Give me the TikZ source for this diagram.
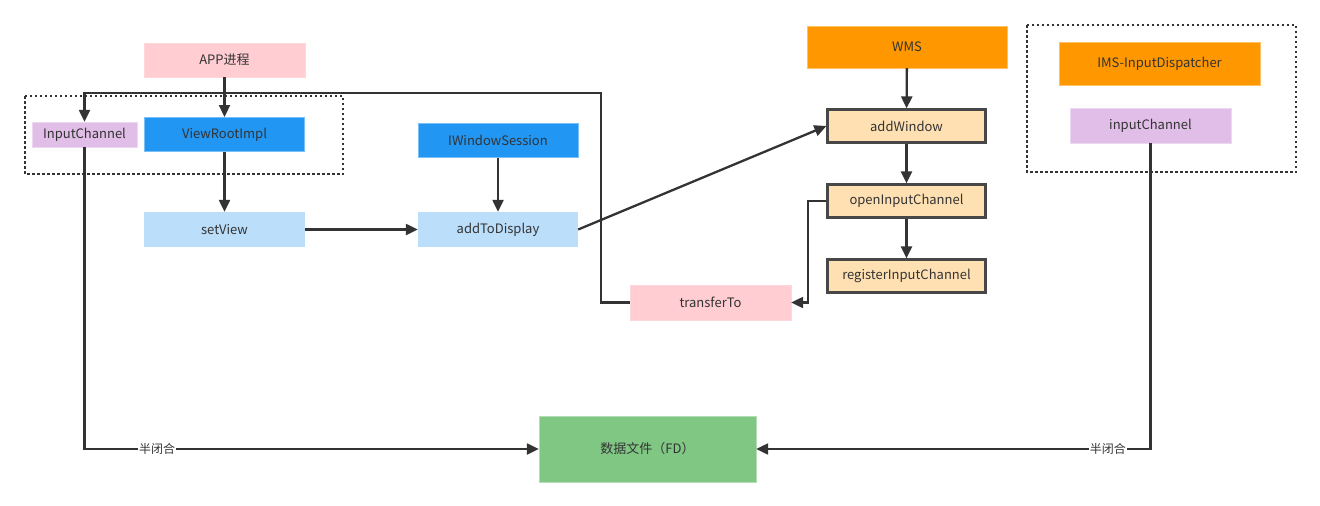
\documentclass[tikz,border=0pt]{standalone}
\usepackage{fontspec}
\setmainfont{Noto Sans CJK SC}
\usetikzlibrary{arrows.meta}
\definecolor{txt}{HTML}{333333}
\definecolor{pinkc}{HTML}{FFCDD2}
\definecolor{bluec}{HTML}{2196F3}
\definecolor{lbluec}{HTML}{BBDEFB}
\definecolor{purplec}{HTML}{E1BEE7}
\definecolor{orangec}{HTML}{FF9800}
\definecolor{peachc}{HTML}{FFE0B2}
\definecolor{greenc}{HTML}{81C784}
\definecolor{linec}{HTML}{333333}
\tikzset{
  box/.style={rectangle, inner sep=0pt, text=txt, font=\fontsize{13}{15}\selectfont},
  pinkbox/.style={box, fill=pinkc, draw=pinkc!80!white},
  bluebox/.style={box, fill=bluec, draw=bluec!60!white, line width=1pt},
  lbluebox/.style={box, fill=lbluec},
  purplebox/.style={box, fill=purplec, draw=purplec!60!white},
  orangebox/.style={box, fill=orangec, draw=orangec!60!white},
  peachbox/.style={box, fill=peachc, draw=linec!90!white, line width=2.2pt},
  greenbox/.style={box, fill=greenc, draw=greenc!60!white},
  conn/.style={draw=linec, line width=2.3pt, -{Triangle[length=12pt,width=11pt]}},
  grp/.style={draw=linec, line width=2.3pt, dash pattern=on 2.5pt off 2.5pt},
  lab/.style={fill=white, inner sep=1pt, text=txt, font=\fontsize{12}{14}\selectfont}
}
\begin{document}
\begin{tikzpicture}[x=1pt,y=-1pt]
\useasboundingbox (0,0) rectangle (1320,506);
% group boxes
\draw[grp] (25,96) rectangle (343,174);
\draw[grp] (1027,25) rectangle (1296,172);
% nodes
\node[pinkbox, minimum width=161pt, minimum height=34pt] (app) at (224.5,60) {APP进程};
\node[purplebox, minimum width=105pt, minimum height=25pt] (ic) at (84.5,134.5) {InputChannel};
\node[bluebox, minimum width=160pt, minimum height=34pt] (vri) at (224.5,134.5) {ViewRootImpl};
\node[lbluebox, minimum width=161pt, minimum height=35pt] (sv) at (224.5,229.5) {setView};
\node[bluebox, minimum width=160pt, minimum height=34pt] (iws) at (498,140) {IWindowSession};
\node[lbluebox, minimum width=160pt, minimum height=35pt] (atd) at (498,229.5) {addToDisplay};
\node[orangebox, minimum width=200pt, minimum height=42pt] (wms) at (907,47) {WMS};
\node[peachbox, minimum width=158pt, minimum height=33pt] (aw) at (906.5,126) {addWindow};
\node[peachbox, minimum width=158pt, minimum height=33pt] (oic) at (906.5,201) {openInputChannel};
\node[peachbox, minimum width=158pt, minimum height=33pt] (ric) at (906.5,276) {registerInputChannel};
\node[pinkbox, minimum width=161pt, minimum height=35pt] (tt) at (710.5,302.5) {transferTo};
\node[orangebox, minimum width=201pt, minimum height=43pt] (ims) at (1159.5,63.5) {IMS-InputDispatcher};
\node[purplebox, minimum width=161pt, minimum height=35pt] (ic2) at (1150.5,125.5) {inputChannel};
\node[greenbox, minimum width=217pt, minimum height=66pt] (fd) at (647.5,449) {数据文件（FD）};
% coordinates
\coordinate (t1) at (808,201);
\coordinate (t2) at (808,302.5);
\coordinate (u1) at (601,302.5);
\coordinate (u2) at (601,93);
\coordinate (u3) at (84.5,93);
\coordinate (l1) at (84.5,449);
\coordinate (r1) at (1150.5,449);
% connectors
\draw[conn] (app) -- (vri);
\draw[conn] (vri) -- (sv);
\draw[conn] (sv) -- (atd);
\draw[conn] (iws) -- (atd);
\draw[conn] (atd.east) -- (aw.west);
\draw[conn] (wms) -- (aw);
\draw[conn] (aw) -- (oic);
\draw[conn] (oic) -- (ric);
\draw[conn] (oic.west) -- (t1) -- (t2) -- (tt.east);
\draw[conn] (tt.west) -- (u1) -- (u2) -- (u3) -- (ic.north);
\draw[conn] (ic.south) -- (l1) -- (fd.west) node[lab, pos=0.16] {半闭合};
\draw[conn] (ic2.south) -- (r1) -- (fd.east) node[lab, pos=0.108] {半闭合};
\end{tikzpicture}
\end{document}
